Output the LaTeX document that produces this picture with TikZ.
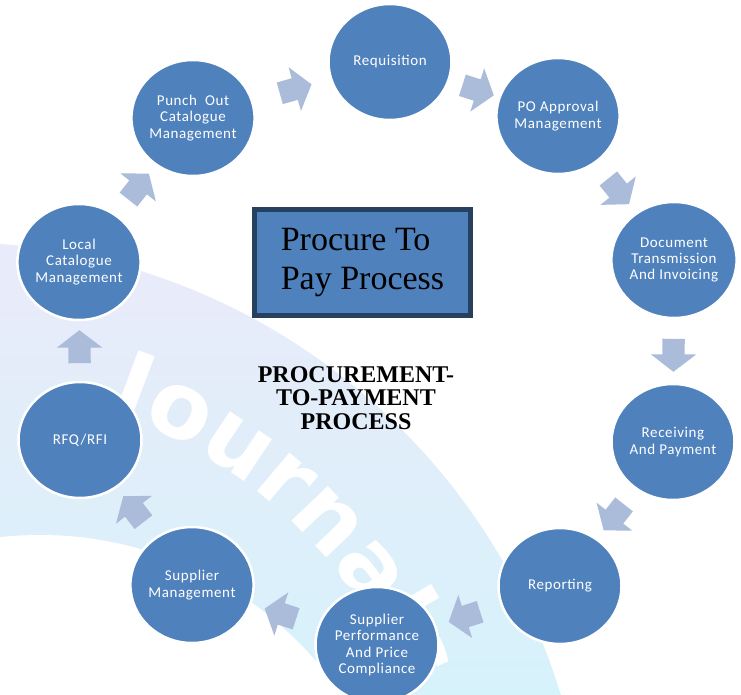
\documentclass[tikz,border=0pt]{standalone}
\usepackage{fontspec}
\setmainfont{Liberation Serif}
\newfontfamily\stagefont{Carlito}[LetterSpace=4]
\newfontfamily\markfont{DejaVu Sans}[LetterSpace=9]
\usetikzlibrary{shapes.geometric, shapes.arrows, calc, decorations.text}

\definecolor{stageblue}{RGB}{79,129,189}
\definecolor{flowblue}{RGB}{171,188,218}
\definecolor{boxedge}{RGB}{38,64,96}
\definecolor{bandlav}{RGB}{234,234,250}
\definecolor{bandcyan}{RGB}{214,242,250}

\tikzset{
  stage/.style={ellipse, minimum width=123pt, minimum height=116pt, inner sep=0pt,
    fill=stageblue, draw=white, line width=2.5pt, text=white, align=center,
    font=\stagefont\fontsize{15}{16.3}\selectfont},
  flow/.style={single arrow, single arrow head extend=11.5pt, single arrow tip angle=105,
    inner xsep=0pt, inner ysep=11pt, minimum height=33pt, fill=flowblue, draw=none},
  titlebox/.style={rectangle, fill=stageblue, draw=boxedge, line width=5pt,
    minimum width=216pt, minimum height=106pt, inner sep=0pt, align=left,
    font=\fontsize{34}{39}\selectfont},
  subtitle/.style={align=center, inner sep=0pt, font=\bfseries\fontsize{24}{23.5}\selectfont}
}

\begin{document}
\begin{tikzpicture}[x=1pt, y=-1pt]
  \useasboundingbox (0,0) rectangle (741,695);
  \clip (0,0) rectangle (741,695);
  \fill[white] (0,0) rectangle (741,695);

  % faint journal band in the background
  \begin{scope}
    \clip (-50,880) circle (638pt);
    \shade[top color=bandlav, bottom color=bandcyan] (0,230) rectangle (741,695);
  \end{scope}
  \fill[white] (40,900) circle (365pt);
  \path[decorate, decoration={text along path, text align=center, text color=white,
      text={|\markfont\bfseries\fontsize{92}{92}\selectfont|Journals}}]
    ($(-50,880)+(0.0349*495,-0.9994*495)$) arc[start angle=88, end angle=6, radius=495pt];

  % the ten stages of the cycle
  \node[stage] (req) at (390,62)  {Requisition};
  \node[stage] (poa) at (558,116) {PO Approval\\Management};
  \node[stage] (doc) at (674,260) {Document\\Transmission\\And Invoicing};
  \node[stage] (rec) at (673,442) {Receiving\\And Payment};
  \node[stage] (rep) at (560,586) {Reporting};
  \node[stage] (spc) at (377,645) {Supplier\\Performance\\And Price\\Compliance};
  \node[stage] (sup) at (192,585) {Supplier\\Management};
  \node[stage] (rfq) at (80,440)  {RFQ/RFI};
  \node[stage] (lcm) at (79,262)  {Local\\Catalogue\\Management};
  \node[stage] (pcm) at (193,118) {Punch\ \ Out\\Catalogue\\Management};

  % block arrows between consecutive stages
  \foreach \a/\b/\k in {pcm/req/1, req/poa/2, poa/doc/3, doc/rec/4, rec/rep/5,
                        rep/spc/6, spc/sup/7, sup/rfq/8, rfq/lcm/9, lcm/pcm/10}{
    \path let \p1 = ($(\b)-(\a)$), \n1 = {atan2(\y1,\x1)} in
      node[flow, rotate=\n1] (flow\k) at ($(\a)!0.5!(\b)$) {};
  }

  % centre labels
  \node[titlebox] (title) at (362.5,262.5) {Procure To\\Pay Process};
  \node[subtitle] (caption) at (356,398) {PROCUREMENT-\\TO-PAYMENT\\PROCESS};
\end{tikzpicture}
\end{document}
